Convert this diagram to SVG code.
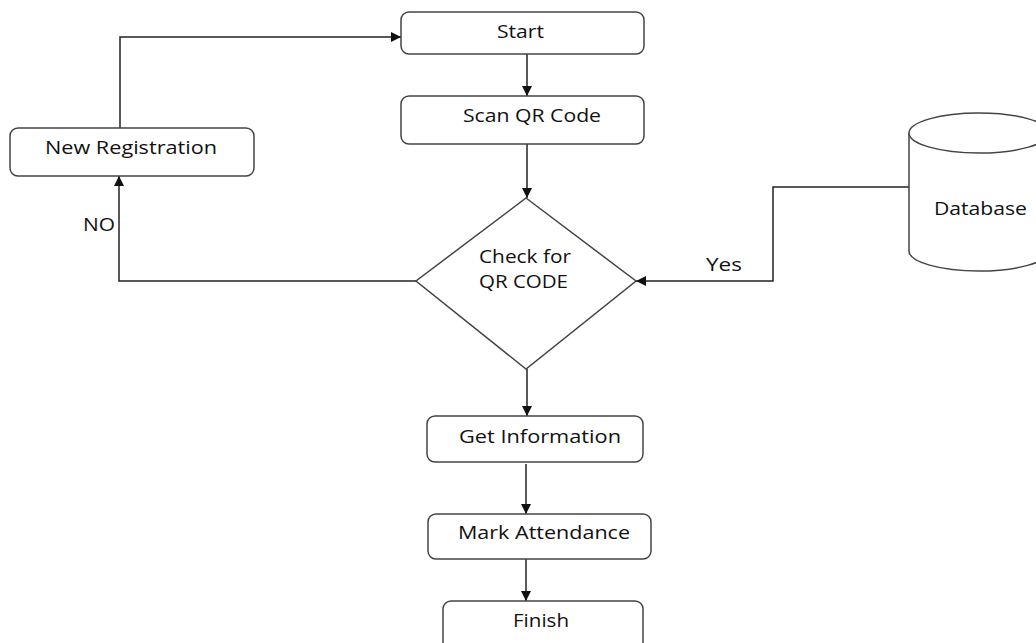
<svg xmlns="http://www.w3.org/2000/svg" width="1036" height="643" viewBox="0 0 1036 643">
<defs>
<style>
.box{fill:#fff;stroke:#444;stroke-width:1.5}
.ln{fill:none;stroke:#222;stroke-width:1.5}
.t{font-family:"Open Sans","Liberation Sans",sans-serif;font-size:18px;fill:#111}
</style>
<marker id="ah" viewBox="0 0 10 10" refX="10" refY="5" markerWidth="10" markerHeight="10" markerUnits="userSpaceOnUse" orient="auto">
<path d="M0,0 L10,5 L0,10 z" fill="#111"/>
</marker>
</defs>
<rect width="1036" height="643" fill="#fff"/>
<g id="connectors">
<path class="ln" d="M527,54 V96" marker-end="url(#ah)"/>
<path class="ln" d="M527,144 V198" marker-end="url(#ah)"/>
<path class="ln" d="M120,128 V37 H401" marker-end="url(#ah)"/>
<path class="ln" d="M416,281 H119 V176" marker-end="url(#ah)"/>
<path class="ln" d="M909,187 H773 V281 H636" marker-end="url(#ah)"/>
<path class="ln" d="M527,369 V416" marker-end="url(#ah)"/>
<path class="ln" d="M526,464 V514" marker-end="url(#ah)"/>
<path class="ln" d="M526,559 V601" marker-end="url(#ah)"/>
<text class="t" x="83" y="231" textLength="32" lengthAdjust="spacingAndGlyphs">NO</text>
<text class="t" x="706" y="271" textLength="36" lengthAdjust="spacingAndGlyphs">Yes</text>
</g>
<g id="start">
<rect class="box" x="401" y="12" width="243" height="42" rx="8"/>
<text class="t" x="497" y="38" textLength="47" lengthAdjust="spacingAndGlyphs">Start</text>
</g>
<g id="scan">
<rect class="box" x="401" y="96" width="243" height="48" rx="8"/>
<text class="t" x="463" y="122" textLength="138" lengthAdjust="spacingAndGlyphs">Scan QR Code</text>
</g>
<g id="newreg">
<rect class="box" x="10" y="128" width="244" height="48" rx="8"/>
<text class="t" x="45" y="154" textLength="172" lengthAdjust="spacingAndGlyphs">New Registration</text>
</g>
<g id="check">
<path class="box" d="M526,198 L636,281 L526,369 L416,281 Z"/>
<text class="t" x="479" y="263" textLength="92" lengthAdjust="spacingAndGlyphs">Check for</text>
<text class="t" x="479" y="288" textLength="89" lengthAdjust="spacingAndGlyphs">QR CODE</text>
</g>
<g id="database">
<path class="box" d="M909,133 V251 A70,20 0 0 0 1049,251 V133"/>
<ellipse class="box" cx="979" cy="133" rx="70" ry="20"/>
<text class="t" x="934" y="215" textLength="93" lengthAdjust="spacingAndGlyphs">Database</text>
</g>
<g id="getinfo">
<rect class="box" x="427" y="416" width="216" height="46" rx="8"/>
<text class="t" x="459" y="443" textLength="162" lengthAdjust="spacingAndGlyphs">Get Information</text>
</g>
<g id="mark">
<rect class="box" x="428" y="514" width="223" height="45" rx="8"/>
<text class="t" x="458" y="539" textLength="172" lengthAdjust="spacingAndGlyphs">Mark Attendance</text>
</g>
<g id="finish">
<rect class="box" x="443" y="601" width="200" height="50" rx="8"/>
<text class="t" x="513" y="627" textLength="56" lengthAdjust="spacingAndGlyphs">Finish</text>
</g>
</svg>
